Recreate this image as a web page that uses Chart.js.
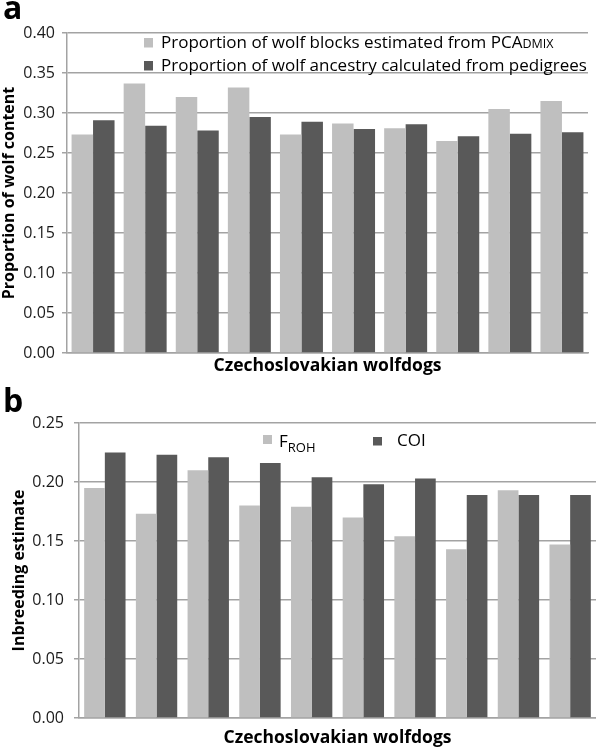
<!DOCTYPE html>
<html>
<head>
<meta charset="utf-8">
<script src="https://cdn.jsdelivr.net/npm/chart.js@4.4.1/dist/chart.umd.min.js"></script>
<style>
  html, body { margin: 0; padding: 0; background: #fff; }
  #wrap { position: relative; width: 596px; height: 749px; }
  .box { position: absolute; left: 0; width: 596px; }
</style>
</head>
<body>
<div id="wrap">
  <div class="box" style="top:0;height:380px;"><canvas id="chartA" width="596" height="380"></canvas></div>
  <div class="box" style="top:376px;height:373px;"><canvas id="chartB" width="596" height="373"></canvas></div>
</div>
<script>
// ---------- data ----------
const categories = ['1','2','3','4','5','6','7','8','9','10'];

const wolfBlocksPCAdmix = [0.273, 0.337, 0.320, 0.332, 0.273, 0.287, 0.281, 0.265, 0.305, 0.315];
const wolfAncestryPedigree = [0.291, 0.284, 0.278, 0.295, 0.289, 0.280, 0.286, 0.271, 0.274, 0.276];

const fROH = [0.195, 0.173, 0.210, 0.180, 0.179, 0.170, 0.154, 0.143, 0.193, 0.147];
const coi  = [0.225, 0.223, 0.221, 0.216, 0.204, 0.198, 0.203, 0.189, 0.189, 0.189];

const ticksA = { min: 0, max: 0.40, step: 0.05 };
const ticksB = { min: 0, max: 0.25, step: 0.05 };

const legendA = ['Proportion of wolf blocks estimated from PCA', 'Proportion of wolf ancestry calculated from pedigrees'];
const legendB = ['F', 'COI'];

const LIGHT = '#bfbfbf';
const DARK = '#595959';
const GRID = '#a3a3a3';
const FONT = '"Open Sans", Lato, sans-serif';

Chart.defaults.font.family = FONT;
Chart.defaults.color = '#1a1a1a';
Chart.defaults.animation = false;

function yScale(t, width, tickPad, titleText, titlePadTop) {
  return {
    min: t.min, max: t.max,
    afterFit: s => { s.width = width; },
    ticks: { stepSize: t.step, padding: tickPad, color: '#1a1a1a', font: { size: 16 },
             callback: v => Number(v).toFixed(2) },
    grid: { color: GRID, lineWidth: 1.5, tickLength: 5, drawTicks: true },
    border: { color: GRID, width: 1.5 },
    title: { display: true, text: titleText, color: '#000', font: { size: 16, weight: 'bold' },
             padding: { top: titlePadTop, bottom: 0 } }
  };
}
function xScale(titleText, padTop, padBottom) {
  return {
    ticks: { display: false },
    grid: { display: false, drawTicks: false },
    border: { color: GRID, width: 1.5 },
    title: { display: true, text: titleText, color: '#000', font: { size: 17.5, weight: 'bold' },
             padding: { top: padTop, bottom: padBottom } }
  };
}

const legendPluginA = {
  id: 'legA',
  afterDraw(chart) {
    const ctx = chart.ctx;
    ctx.save();
    ctx.fillStyle = '#000';
    ctx.font = 'bold 32px ' + FONT;
    ctx.textBaseline = 'alphabetic';
    ctx.textAlign = 'left';
    ctx.fillText('a', 3, 19);
    const ds = chart.data.datasets;
    ctx.font = '17px ' + FONT;
    ctx.fillStyle = ds[0].backgroundColor;
    ctx.fillRect(144, 38, 9, 9.5);
    ctx.fillStyle = '#000';
    ctx.fillText(legendA[0], 161, 47.5);
    let w = ctx.measureText(legendA[0]).width;
    ctx.font = '12.5px ' + FONT;
    ctx.fillText('DMIX', 161 + w, 47.5);
    ctx.font = '17px ' + FONT;
    ctx.fillStyle = ds[1].backgroundColor;
    ctx.fillRect(144, 61, 9, 9.5);
    ctx.fillStyle = '#000';
    ctx.fillText(legendA[1], 161, 70.5);
    ctx.restore();
  }
};
const legendPluginB = {
  id: 'legB',
  afterDraw(chart) {
    const ctx = chart.ctx;
    ctx.save();
    ctx.fillStyle = '#000';
    ctx.font = 'bold 32px ' + FONT;
    ctx.textBaseline = 'alphabetic';
    ctx.textAlign = 'left';
    ctx.fillText('b', 3, 36);
    const ds = chart.data.datasets;
    ctx.fillStyle = ds[0].backgroundColor;
    ctx.fillRect(263, 59, 9, 9);
    ctx.fillStyle = '#000';
    ctx.font = '17px ' + FONT;
    ctx.fillText(legendB[0], 279, 70.5);
    const fw = ctx.measureText(legendB[0]).width;
    ctx.font = '13px ' + FONT;
    ctx.fillText('ROH', 279 + fw, 75.5);
    ctx.fillStyle = ds[1].backgroundColor;
    ctx.fillRect(373, 61, 9, 8.5);
    ctx.fillStyle = '#000';
    ctx.font = '17px ' + FONT;
    ctx.fillText(legendB[1], 397, 69.5);
    ctx.restore();
  }
};

new Chart(document.getElementById('chartA'), {
  type: 'bar',
  data: {
    labels: categories,
    datasets: [
      { label: legendA[0] + 'DMIX', data: wolfBlocksPCAdmix, backgroundColor: LIGHT,
        categoryPercentage: 0.825, barPercentage: 1.0 },
      { label: legendA[1], data: wolfAncestryPedigree, backgroundColor: DARK,
        categoryPercentage: 0.825, barPercentage: 1.0 }
    ]
  },
  options: {
    responsive: false,
    layout: { padding: { top: 33, left: 0, right: 8, bottom: 0 } },
    plugins: { legend: { display: false }, tooltip: { enabled: false } },
    scales: {
      x: xScale('Czechoslovakian wolfdogs', 2.5, 3.5),
      y: yScale(ticksA, 67, 7, 'Proportion of wolf content', 0)
    }
  },
  plugins: [legendPluginA]
});

new Chart(document.getElementById('chartB'), {
  type: 'bar',
  data: {
    labels: categories,
    datasets: [
      { label: 'FROH', data: fROH, backgroundColor: LIGHT, categoryPercentage: 0.8, barPercentage: 1.0 },
      { label: legendB[1], data: coi, backgroundColor: DARK, categoryPercentage: 0.8, barPercentage: 1.0 }
    ]
  },
  options: {
    responsive: false,
    layout: { padding: { top: 47, left: 0, right: 0, bottom: 0 } },
    plugins: { legend: { display: false }, tooltip: { enabled: false } },
    scales: {
      x: xScale('Czechoslovakian wolfdogs', 9.5, 0.5),
      y: yScale(ticksB, 79, 10, 'Inbreeding estimate', 10)
    }
  },
  plugins: [legendPluginB]
});
</script>
</body>
</html>
